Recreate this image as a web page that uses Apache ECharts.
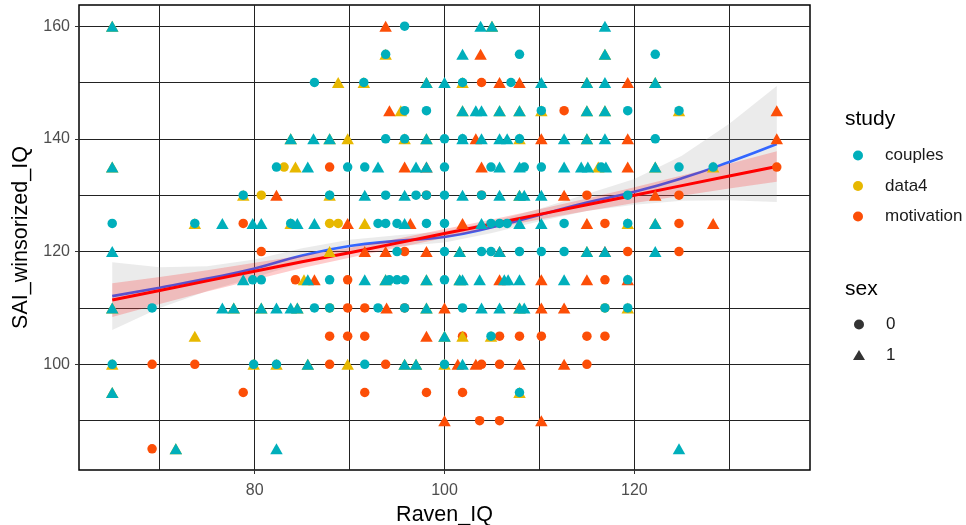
<!DOCTYPE html>
<html>
<head>
<meta charset="utf-8">
<script src="https://cdn.jsdelivr.net/npm/echarts@6/dist/echarts.min.js"></script>
<style>
  html, body { margin: 0; padding: 0; background: #fff; }
  #box { width: 966px; height: 525px; }
</style>
</head>
<body>
<div id="box"></div>
<script>
// tick values
const xMajor = [80, 100, 120];
const xMinor = [70, 90, 110, 130];
const yMajor = [100, 120, 140, 160];
const yMinor = [90, 110, 130, 150];

// points: [Raven_IQ, SAI_winsorized_IQ]
const couples0 = [
  [95.8,160],
  [93.8,155],[107.9,155],[122.2,155],
  [86.3,150],[91.5,150],[101.9,150],[107.0,150],
  [95.8,145],[98.1,145],[110.2,145],[119.3,145],[124.7,145],
  [93.8,140],[95.8,140],[100,140],[101.9,140],[107.9,140],[122.2,140],
  [82.3,135],[89.8,135],[91.6,135],[100,135],[104.9,135],[108.4,135],[110.2,135],[116.5,135],[124.7,135],[128.3,135],
  [78.8,130],[87.9,130],[93.8,130],[97.0,130],[98.1,130],[100,130],[103.9,130],[119.3,130],
  [65,125],[73.7,125],[83.8,125],[93.0,125],[93.8,125],[95.0,125],[98.1,125],[100,125],[104.9,125],[105.8,125],[106.6,125],[112.6,125],[119.3,125],
  [95.0,120],[100,120],[103.9,120],[104.9,120],[107.9,120],[110.2,120],[112.6,120],
  [79.8,115],[80.7,115],[87.9,115],[94.2,115],[95.0,115],[95.8,115],[100,115],[119.3,115],
  [69.2,110],[86.3,110],[87.9,110],[93.0,110],[95.8,110],[101.9,110],[116.9,110],[119.3,110],
  [104.9,105],
  [65,100],[79.9,100],[82.3,100],[91.6,100],[100,100],
  [107.9,95]
];
const couples1 = [
  [65,160],[103.8,160],[105.0,160],[116.9,160],
  [101.9,155],[116.9,155],
  [98.1,150],[100,150],[110.2,150],[115.0,150],[116.9,150],[122.2,150],
  [101.9,145],[103.3,145],[103.9,145],[105.8,145],[107.9,145],[115.0,145],[116.9,145],
  [83.8,140],[86.2,140],[87.9,140],[98.1,140],[101.9,140],[103.9,140],[105.8,140],[106.6,140],[112.6,140],[115.0,140],[116.9,140],
  [65,135],[85.6,135],[93.0,135],[97.0,135],[98.1,135],[105.8,135],[107.9,135],[112.6,135],[114.4,135],[115.1,135],[117.0,135],[122.2,135],
  [91.6,130],[95.8,130],[101.9,130],[105.8,130],[107.9,130],[108.4,130],[110.2,130],
  [76.6,125],[79.8,125],[80.7,125],[84.5,125],[86.3,125],[95.8,125],[103.9,125],[107.9,125],[110.2,125],[122.2,125],
  [65,120],[101.6,120],[105.8,120],[115.0,120],[116.9,120],[122.2,120],
  [78.8,115],[85.6,115],[91.6,115],[93.8,115],[98.1,115],[101.6,115],[101.9,115],[103.7,115],[106.3,115],[106.7,115],[107.9,115],[112.6,115],
  [65,110],[76.6,110],[77.8,110],[80.7,110],[82.3,110],[83.8,110],[84.5,110],[98.1,110],[103.9,110],[105.8,110],[107.9,110],[108.4,110],
  [100,105],
  [85.6,100],[95.8,100],[97.0,100],[101.9,100],
  [65,95],
  [71.7,85],[82.3,85],[124.7,85]
];
const data4_0 = [
  [83.1,135],[80.7,130],[87.9,125],[88.8,125],[87.9,110],[116.9,110]
];
const data4_1 = [
  [65,160],[105.0,160],
  [93.8,155],[116.9,155],
  [88.8,150],[91.5,150],[98.1,150],[101.9,150],[115.0,150],[122.2,150],
  [95.4,145],[101.9,145],[105.8,145],[107.9,145],[110.2,145],[115.0,145],[116.9,145],[124.7,145],
  [83.8,140],[87.9,140],[89.8,140],[95.8,140],[98.1,140],[107.9,140],[115.0,140],
  [65,135],[84.3,135],[116.2,135],[122.2,135],[128.3,135],
  [78.8,130],[87.9,130],[107.9,130],
  [73.7,125],[83.8,125],[91.6,125],[119.3,125],[122.2,125],
  [87.9,120],[101.6,120],[115.0,120],
  [85.2,115],[93.8,115],[98.1,115],[101.6,115],
  [65,110],[77.8,110],[80.7,110],[84.5,110],[98.1,110],[107.9,110],[119.3,110],
  [73.7,105],[100,105],[101.9,105],[104.9,105],
  [65,100],[79.9,100],[82.3,100],[85.6,100],[89.8,100],[95.8,100],[97.0,100],[100,100],
  [65,95],[107.9,95],
  [71.7,85]
];
const motivation0 = [
  [103.9,150],
  [112.6,145],
  [87.9,135],[135.0,135],
  [98.1,130],[103.9,130],[115.0,130],[124.7,130],
  [78.8,125],[116.9,125],[124.7,125],
  [80.7,120],[95.8,120],[119.3,120],[124.7,120],
  [84.3,115],[89.8,115],[116.9,115],
  [89.8,110],[91.6,110],[95.8,110],
  [87.9,105],[89.8,105],[91.6,105],[101.9,105],[105.8,105],[107.9,105],[110.2,105],[115.0,105],[116.9,105],
  [69.2,100],[73.7,100],[87.9,100],[93.8,100],[103.9,100],[105.8,100],[115.0,100],
  [78.8,95],[91.6,95],[98.1,95],[101.9,95],
  [103.7,90],[105.8,90],
  [69.2,85]
];
const motivation1 = [
  [93.8,160],
  [103.8,155],
  [105.8,150],[107.9,150],[119.3,150],
  [94.2,145],[135.0,145],
  [103.3,140],[110.2,140],[119.3,140],[135.0,140],
  [95.8,135],[98.1,135],[103.9,135],[119.3,135],
  [82.3,130],[112.6,130],[122.2,130],
  [89.8,125],[96.4,125],[101.9,125],[115.0,125],[128.3,125],
  [91.6,120],[93.8,120],[98.1,120],[105.8,120],[116.9,120],
  [86.3,115],[105.8,115],[110.2,115],[115.0,115],[119.3,115],
  [93.9,110],[100,110],[110.2,110],[112.6,110],
  [98.1,105],
  [101.4,100],[103.3,100],[107.9,100],[112.6,100],
  [100,90],[110.2,90]
];

// fitted curves and their bands
const fitX    = [65, 70, 75, 80, 85, 90, 95, 100, 105, 110, 115, 120, 125, 130, 135];
const loessY  = [112.1,113.6,115.2,117.0,119.3,121.0,121.9,122.6,124.3,126.5,128.7,130.6,133.0,135.9,139.1];
const loessLo = [106.1,110.0,113.0,115.4,118.0,119.9,120.9,121.6,123.3,125.4,127.2,128.3,129.0,129.1,128.8];
const loessHi = [118.1,117.2,117.4,118.6,120.6,122.1,122.9,123.6,125.3,127.6,130.2,132.9,137.0,142.7,149.4];
const lmY     = [111.4,113.1,114.8,116.5,118.2,119.8,121.5,123.2,124.9,126.6,128.3,130.0,131.7,133.4,135.1];
const lmLo    = [108.4,110.7,112.9,115.0,117.1,118.9,120.7,122.4,124.1,125.7,127.2,128.6,129.9,131.2,132.4];
const lmHi    = [114.4,115.5,116.7,118.0,119.3,120.7,122.3,124.0,125.7,127.5,129.4,131.4,133.5,135.6,137.8];

const colors = { couples: '#00AFBB', data4: '#E7B800', motivation: '#FC4E07' };
const gridColor = '#222';

function band(lo, hi, fill, z) {
  return {
    type: 'custom',
    silent: true,
    z: z,
    data: fitX.map((x, i) => [x, lo[i], hi[i]]),
    renderItem: (params, api) => {
      if (params.dataIndex !== 0) return null;
      const top = fitX.map((x, i) => api.coord([x, hi[i]]));
      const bot = fitX.map((x, i) => api.coord([x, lo[i]])).reverse();
      return { type: 'polygon', shape: { points: top.concat(bot) }, style: { fill: fill } };
    }
  };
}

function pts(name, data, sex) {
  return {
    name: name,
    type: 'scatter',
    data: data,
    z: 10,
    symbol: sex === 0 ? 'circle' : 'triangle',
    symbolSize: sex === 0 ? 9.5 : [12.5, 11],
    itemStyle: { color: colors[name], opacity: 1 },
    emphasis: { disabled: true }
  };
}

// shared legend look; the spacer pushes the label away from the key
const legendBase = {
  orient: 'vertical', left: 853, padding: 0,
  itemWidth: 12, itemHeight: 10, itemGap: 13.5,
  selectedMode: false,
  formatter: name => '{s|}' + name,
  textStyle: { fontSize: 17, color: '#1a1a1a', rich: { s: { width: 16 } } }
};

const myChart = echarts.init(document.getElementById('box'));

const option = {
  animation: false,
  textStyle: { fontFamily: 'Liberation Sans, Arial, sans-serif' },
  title: [
    { text: 'study', left: 845, top: 109, padding: 0, textStyle: { fontSize: 21, fontWeight: 'normal', color: '#000' } },
    { text: 'sex', left: 845, top: 279, padding: 0, textStyle: { fontSize: 21, fontWeight: 'normal', color: '#000' } }
  ],
  legend: [
    Object.assign({}, legendBase, {
      top: 147,
      data: [{ name: 'couples', icon: 'circle' }, { name: 'data4', icon: 'circle' }, { name: 'motivation', icon: 'circle' }]
    }),
    Object.assign({}, legendBase, {
      top: 316,
      data: [{ name: '0', icon: 'circle' }, { name: '1', icon: 'triangle' }]
    })
  ],
  grid: {
    left: 79, top: 5, right: 156, bottom: 55,
    outerBoundsMode: 'none',
    show: true, borderColor: '#000', borderWidth: 1.5
  },
  xAxis: [
    {
      type: 'value', min: 61.5, max: 138.5,
      axisLine: { show: false },
      axisTick: { show: true, customValues: xMajor, length: 4, lineStyle: { color: '#333' } },
      axisLabel: { customValues: xMajor, color: '#4D4D4D', fontSize: 16, margin: 13 },
      splitLine: { show: true, lineStyle: { color: gridColor, width: 1 } },
      name: 'Raven_IQ', nameLocation: 'middle', nameGap: 31,
      nameTextStyle: { fontSize: 21.5, color: '#000' }
    },
    {
      type: 'value', min: 61.5, max: 138.5, position: 'bottom',
      axisLine: { show: false },
      axisTick: { show: false, customValues: xMinor },
      axisLabel: { show: false, customValues: xMinor },
      splitLine: { show: true, lineStyle: { color: gridColor, width: 1 } }
    }
  ],
  yAxis: [
    {
      type: 'value', min: 81.25, max: 163.75,
      axisLine: { show: false },
      axisTick: { show: true, customValues: yMajor, length: 4, lineStyle: { color: '#333' } },
      axisLabel: { customValues: yMajor, color: '#4D4D4D', fontSize: 16, margin: 9 },
      splitLine: { show: true, lineStyle: { color: gridColor, width: 1 } },
      name: 'SAI_winsorized_IQ', nameLocation: 'middle', nameGap: 44,
      nameTextStyle: { fontSize: 21.5, color: '#000' }
    },
    {
      type: 'value', min: 81.25, max: 163.75, position: 'left',
      axisLine: { show: false },
      axisTick: { show: false, customValues: yMinor },
      axisLabel: { show: false, customValues: yMinor },
      splitLine: { show: true, lineStyle: { color: gridColor, width: 1 } }
    }
  ],
  series: [
    band(loessLo, loessHi, 'rgba(153,153,153,0.2)', 1),
    {
      type: 'line', z: 2, silent: true, symbol: 'none', smooth: true,
      data: fitX.map((x, i) => [x, loessY[i]]),
      lineStyle: { color: '#3366FF', width: 2.6 }
    },
    band(lmLo, lmHi, 'rgba(255,0,0,0.2)', 3),
    {
      type: 'line', z: 4, silent: true, symbol: 'none',
      data: fitX.map((x, i) => [x, lmY[i]]),
      lineStyle: { color: '#FF0000', width: 3 }
    },
    pts('motivation', motivation0, 0),
    pts('motivation', motivation1, 1),
    pts('data4', data4_0, 0),
    pts('data4', data4_1, 1),
    pts('couples', couples0, 0),
    pts('couples', couples1, 1),
    { name: '0', type: 'scatter', data: [], symbol: 'circle', itemStyle: { color: '#000' } },
    { name: '1', type: 'scatter', data: [], symbol: 'triangle', itemStyle: { color: '#000' } }
  ]
};

myChart.setOption(option);
</script>
</body>
</html>
